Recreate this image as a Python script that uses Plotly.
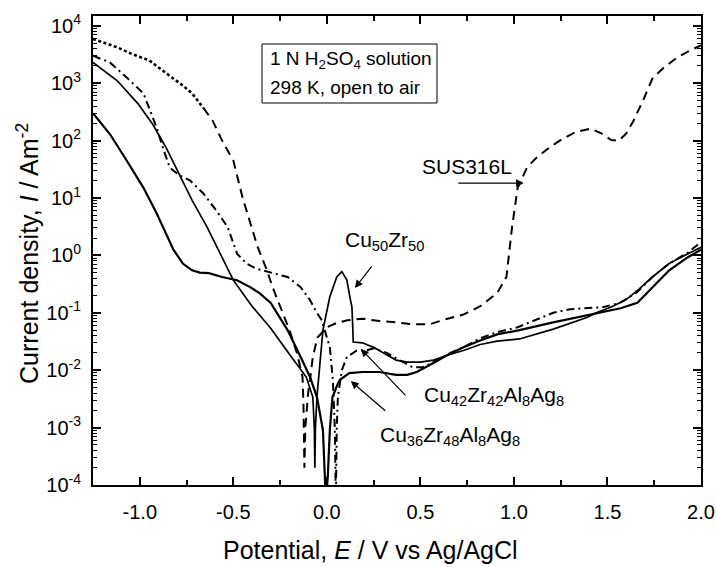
import plotly.graph_objects as go

# ---- polarization curves: potential E (V vs Ag/AgCl) and current density I (A m^-2) ----
sus_E = [-1.25, -1.12, -1.04, -0.95, -0.86, -0.77, -0.72, -0.66, -0.61, -0.56, -0.50, -0.45,
         -0.40, -0.37, -0.32, -0.29, -0.25, -0.20, -0.16, -0.13, -0.125, -0.12, -0.115, -0.10,
         -0.09, -0.075, -0.05, 0.0, 0.05, 0.11, 0.19, 0.28, 0.37, 0.46, 0.55, 0.64, 0.73, 0.82,
         0.91, 0.96, 0.99, 1.02, 1.07, 1.12, 1.19, 1.26, 1.33, 1.41, 1.47, 1.52, 1.56, 1.60,
         1.64, 1.69, 1.74, 1.80, 1.87, 1.93, 2.00]
sus_I = [5.9e3, 4.2e3, 3.2e3, 2.5e3, 1.5e3, 9.1e2, 6.6e2, 3.7e2, 2.2e2, 1.0e2, 45, 10,
         3.1, 1.4, 0.55, 0.28, 0.13, 0.05, 0.02, 7.6e-3, 2.5e-3, 2.0e-4, 1.0e-3, 4.0e-3,
         6.8e-3, 1.7e-2, 3.7e-2, 5.6e-2, 6.6e-2, 7.4e-2, 7.9e-2, 7.2e-2, 6.8e-2, 6.3e-2, 6.3e-2,
         7.8e-2, 9.3e-2, 0.13, 0.22, 0.42, 3.1, 15, 34, 50, 76, 107, 141, 162, 132, 102, 100,
         132, 224, 500, 1200, 1860, 2750, 3550, 4570]
sus_dot_end = 8  # first part of the SUS316L curve is drawn dotted

cu50_E = [-1.25, -1.12, -1.01, -0.93, -0.86, -0.79, -0.72, -0.64, -0.57, -0.50, -0.40, -0.30,
          -0.20, -0.11, -0.075, -0.067, -0.064, -0.061, -0.053, -0.037, -0.021, 0.016, 0.053,
          0.080, 0.107, 0.123, 0.134, 0.138, 0.141, 0.19, 0.25, 0.28, 0.34, 0.37, 0.43, 0.50,
          0.57, 0.64, 0.73, 0.82, 0.91, 1.03, 1.21, 1.39, 1.44, 1.52, 1.60, 1.67, 1.74, 1.83,
          1.93, 2.00]
cu50_I = [2.3e3, 1.1e3, 4.4e2, 1.9e2, 76, 27, 9.1, 3.1, 1.07, 0.37, 0.13, 0.054,
          0.019, 7.6e-3, 3.4e-3, 1.0e-3, 2.0e-4, 1.0e-3, 3.4e-3, 1.3e-2, 5.0e-2, 0.19, 0.42,
          0.52, 0.37, 0.19, 0.126, 0.063, 0.031, 0.030, 0.025, 0.022, 0.017, 0.015, 0.0138, 0.0138,
          0.015, 0.018, 0.022, 0.028, 0.032, 0.035, 0.052, 0.083, 0.10, 0.126, 0.17, 0.26, 0.42,
          0.72, 1.07, 1.38]

cu42_E = [-1.25, -1.16, -1.07, -0.98, -0.91, -0.88, -0.84, -0.79, -0.73, -0.66, -0.59, -0.53,
          -0.48, -0.43, -0.38, -0.30, -0.21, -0.14, -0.09, -0.053, -0.027, 0.016, 0.032, 0.043,
          0.048, 0.053, 0.059, 0.08, 0.107, 0.16, 0.21, 0.25, 0.32, 0.39, 0.46, 0.51, 0.59,
          0.66, 0.73, 0.82, 0.91, 1.02, 1.21, 1.30, 1.48, 1.57, 1.66, 1.74, 1.83, 1.93, 2.00]
cu42_I = [3.0e3, 2.3e3, 1.26e3, 6.6e2, 1.7e2, 81, 34, 25, 20, 12, 6.0, 3.1,
          1.07, 0.72, 0.59, 0.50, 0.42, 0.28, 0.166, 0.10, 0.074, 0.025, 6.8e-3, 9.1e-4,
          5.0e-5, 1.0e-3, 3.4e-3, 0.010, 0.017, 0.022, 0.022, 0.024, 0.020, 0.0148, 0.0112, 0.0112,
          0.0148, 0.020, 0.025, 0.036, 0.046, 0.056, 0.10, 0.115, 0.126, 0.15, 0.23, 0.42, 0.72,
          1.12, 1.7]

cu36_E = [-1.25, -1.16, -1.07, -0.98, -0.91, -0.86, -0.82, -0.77, -0.72, -0.68, -0.63, -0.56,
          -0.48, -0.41, -0.36, -0.30, -0.21, -0.14, -0.09, -0.053, -0.021, -0.005, 0.005, 0.016,
          0.03, 0.06, 0.07, 0.12, 0.19, 0.28, 0.37, 0.43, 0.48, 0.55, 0.64, 0.73, 0.82, 0.91,
          1.03, 1.21, 1.39, 1.44, 1.57, 1.66, 1.74, 1.83, 1.93, 2.00]
cu36_I = [3.0e2, 1.3e2, 45, 15, 5.4, 2.4, 1.26, 0.72, 0.55, 0.50, 0.49, 0.42,
          0.37, 0.28, 0.22, 0.148, 0.05, 0.017, 7.6e-3, 3.4e-3, 9.1e-4, 5.0e-5, 1.4e-4, 9.1e-4,
          3.4e-3, 5.9e-3, 6.8e-3, 8.9e-3, 9.3e-3, 9.3e-3, 8.3e-3, 8.3e-3, 9.3e-3, 0.0123, 0.018,
          0.025, 0.033, 0.042, 0.050, 0.068, 0.091, 0.10, 0.12, 0.15, 0.275, 0.55, 0.93, 1.26]

x_tickvals = [-1.0, -0.5, 0.0, 0.5, 1.0, 1.5, 2.0]
x_ticktext = ["-1.0", "-0.5", "0.0", "0.5", "1.0", "1.5", "2.0"]
x_minorvals = [-0.75, -0.25, 0.25, 0.75, 1.25, 1.75]
y_exponents = [-4, -3, -2, -1, 0, 1, 2, 3, 4]
y_tickvals = [10.0 ** k for k in y_exponents]
y_ticktext = ["10<sup>%d</sup>" % k for k in y_exponents]
# minor log ticks at 2..9 within each decade shown
y_minorvals = [m * 10.0 ** k for k in y_exponents for m in range(2, 10) if m * 10.0 ** k < 1.45e4]

X_RANGE = [-1.25, 2.0]
Y_RANGE = [-4, 4.17]
FONT = "Liberation Sans, Arial, sans-serif"
BLACK = "#000000"

fig = go.Figure()

fig.add_trace(go.Scatter(x=sus_E[:sus_dot_end], y=sus_I[:sus_dot_end], mode="lines",
                         line=dict(color=BLACK, width=2.6, dash="3px,2.5px"),
                         showlegend=False))
fig.add_trace(go.Scatter(x=sus_E[sus_dot_end - 1:], y=sus_I[sus_dot_end - 1:], mode="lines",
                         line=dict(color=BLACK, width=2, dash="9px,6px"),
                         showlegend=False))
fig.add_trace(go.Scatter(x=cu42_E, y=cu42_I, mode="lines",
                         line=dict(color=BLACK, width=2, dash="8px,4px,2px,4px"),
                         showlegend=False))
fig.add_trace(go.Scatter(x=cu50_E, y=cu50_I, mode="lines",
                         line=dict(color=BLACK, width=1.7),
                         showlegend=False))
fig.add_trace(go.Scatter(x=cu36_E, y=cu36_I, mode="lines",
                         line=dict(color=BLACK, width=2.2),
                         showlegend=False))

axis_common = dict(showline=True, linecolor=BLACK, linewidth=2, mirror="ticks",
                   ticks="inside", tickcolor=BLACK, tickwidth=1.5, ticklen=8,
                   showgrid=False, zeroline=False, automargin=False,
                   tickfont=dict(family=FONT, size=20, color=BLACK))

fig.update_layout(
    xaxis=dict(range=X_RANGE, tickmode="array", tickvals=x_tickvals, ticktext=x_ticktext,
               ticklabelstandoff=8,
               minor=dict(tickmode="array", tickvals=x_minorvals, ticks="inside",
                          ticklen=5, tickwidth=1.5, tickcolor=BLACK, showgrid=False),
               **axis_common),
    yaxis=dict(type="log", range=Y_RANGE, tickmode="array", tickvals=y_tickvals,
               ticktext=y_ticktext, ticklabelstandoff=6,
               minor=dict(tickmode="array", tickvals=y_minorvals, ticks="inside",
                          ticklen=4, tickwidth=1.2, tickcolor=BLACK, showgrid=False),
               **axis_common),
)

ann = []
label_font = dict(family=FONT, size=21, color=BLACK)

# axis titles
ann.append(dict(text="Potential, <i>E</i> / V vs Ag/AgCl", xref="paper", yref="paper",
                x=0.4556, y=-0.139, xanchor="center", yanchor="middle", showarrow=False,
                font=dict(family=FONT, size=25, color=BLACK)))
ann.append(dict(text="Current density, <i>I</i> / Am<sup>-2</sup>", xref="paper", yref="paper",
                x=-0.107, y=0.4947, xanchor="center", yanchor="middle", textangle=-90,
                showarrow=False, font=dict(family=FONT, size=25, color=BLACK)))

# solution conditions box
ann.append(dict(text="1 N H<sub>2</sub>SO<sub>4</sub> solution", xref="paper", yref="paper",
                x=0.2878, y=0.906, xanchor="left", yanchor="middle", showarrow=False,
                font=dict(family=FONT, size=19, color=BLACK)))
ann.append(dict(text="298 K, open to air", xref="paper", yref="paper",
                x=0.2878, y=0.8486, xanchor="left", yanchor="middle", showarrow=False,
                font=dict(family=FONT, size=19, color=BLACK)))

# curve labels (y in log10 units on the log axis)
ann.append(dict(text="SUS316L", x=0.497, y=1.54, xanchor="left", yanchor="middle",
                showarrow=False, font=label_font))
ann.append(dict(text="Cu<sub>50</sub>Zr<sub>50</sub>", x=0.086, y=0.25, xanchor="left",
                yanchor="middle", showarrow=False, font=label_font))
ann.append(dict(text="Cu<sub>42</sub>Zr<sub>42</sub>Al<sub>8</sub>Ag<sub>8</sub>", x=0.508,
                y=-2.45, xanchor="left", yanchor="middle", showarrow=False, font=label_font))
ann.append(dict(text="Cu<sub>36</sub>Zr<sub>48</sub>Al<sub>8</sub>Ag<sub>8</sub>", x=0.273,
                y=-3.146, xanchor="left", yanchor="middle", showarrow=False, font=label_font))

# pointer arrows
arrow_style = dict(showarrow=True, arrowhead=2, arrowsize=1.3, arrowwidth=1.2,
                   arrowcolor=BLACK, text="", standoff=0)
ann.append(dict(x=1.053, y=1.26, ax=-67, ay=0, **arrow_style))
ann.append(dict(x=0.150, y=-0.568, ax=18, ay=-23, **arrow_style))
ann.append(dict(x=0.182, y=-1.63, ax=46, ay=48, **arrow_style))
ann.append(dict(x=0.128, y=-2.19, ax=36, ay=31, **arrow_style))

fig.update_layout(
    width=716, height=567,
    margin=dict(l=93, r=15, t=16, b=82),
    paper_bgcolor="white", plot_bgcolor="white",
    font=dict(family=FONT, color=BLACK),
    annotations=ann,
    shapes=[dict(type="rect", xref="paper", yref="paper", x0=0.278, x1=0.5658,
                 y0=0.8145, y1=0.9403, line=dict(color=BLACK, width=1),
                 fillcolor="rgba(0,0,0,0)")],
)

fig.write_html("out.html")
